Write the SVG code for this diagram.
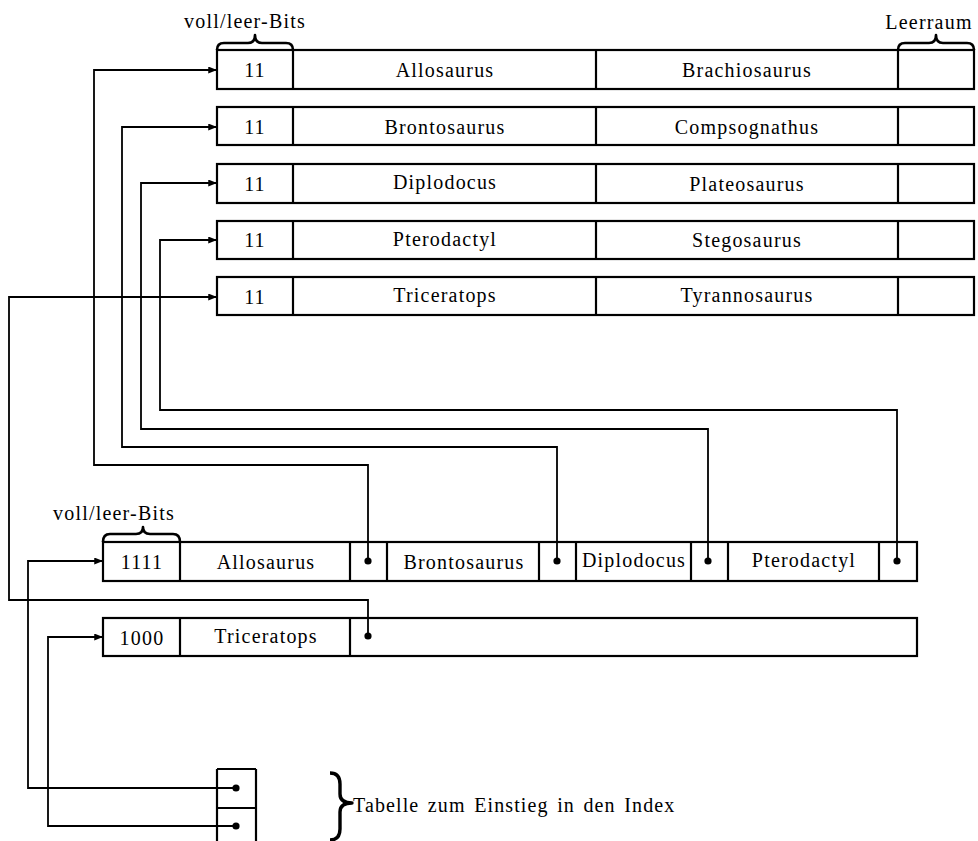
<svg xmlns="http://www.w3.org/2000/svg" width="978" height="841" viewBox="0 0 978 841">
<style>
  .box { fill: none; stroke: #000; stroke-width: 2.2; }
  .div { stroke: #000; stroke-width: 2.2; }
  .t { font-family: "Liberation Serif", "Times New Roman", serif; font-size: 20px; letter-spacing: 1.2px; text-anchor: middle; fill: #000; }
  .ts { font-family: "Liberation Serif", "Times New Roman", serif; font-size: 20px; letter-spacing: 1.1px; word-spacing: 2.5px; fill: #000; }
  .c { fill: none; stroke: #000; stroke-width: 1.8; }
  .brace { fill: none; stroke: #000; stroke-width: 2.6; stroke-linejoin: round; }
  .dot { fill: #000; }
</style>
<defs>
  <marker id="arr" viewBox="0 0 10 8" refX="10" refY="4" markerWidth="10" markerHeight="7" markerUnits="userSpaceOnUse" orient="auto">
    <path d="M0,0 L10,4 L0,8 Z" fill="#000"/>
  </marker>
</defs>

<!-- top labels and braces -->
<g id="label-bits-top">
  <text class="t" x="245" y="28">voll/leer-Bits</text>
  <path class="brace" d="M217,50 Q217,43 224,43 L248,43 Q255,43 255,35 Q255,43 262,43 L286,43 Q293,43 293,50"/>
</g>
<g id="label-leerraum">
  <text class="t" x="929" y="29">Leerraum</text>
  <path class="brace" d="M898,50 Q898,43 905,43 L929,43 Q936,43 936,35 Q936,43 943,43 L967,43 Q974,43 974,50"/>
</g>

<!-- top data blocks -->
<g id="block1">
  <rect class="box" x="217" y="50" width="757" height="39"/>
  <line class="div" x1="293" y1="50" x2="293" y2="89"/>
  <line class="div" x1="596" y1="50" x2="596" y2="89"/>
  <line class="div" x1="898" y1="50" x2="898" y2="89"/>
  <text class="t" x="255" y="77">11</text>
  <text class="t" x="445" y="77">Allosaurus</text>
  <text class="t" x="747" y="77">Brachiosaurus</text>
</g>
<g id="block2">
  <rect class="box" x="217" y="107" width="757" height="38"/>
  <line class="div" x1="293" y1="107" x2="293" y2="145"/>
  <line class="div" x1="596" y1="107" x2="596" y2="145"/>
  <line class="div" x1="898" y1="107" x2="898" y2="145"/>
  <text class="t" x="255" y="134">11</text>
  <text class="t" x="445" y="134">Brontosaurus</text>
  <text class="t" x="747" y="134">Compsognathus</text>
</g>
<g id="block3">
  <rect class="box" x="217" y="164" width="757" height="39"/>
  <line class="div" x1="293" y1="164" x2="293" y2="203"/>
  <line class="div" x1="596" y1="164" x2="596" y2="203"/>
  <line class="div" x1="898" y1="164" x2="898" y2="203"/>
  <text class="t" x="255" y="191">11</text>
  <text class="t" x="445" y="189">Diplodocus</text>
  <text class="t" x="747" y="191">Plateosaurus</text>
</g>
<g id="block4">
  <rect class="box" x="217" y="221" width="757" height="38"/>
  <line class="div" x1="293" y1="221" x2="293" y2="259"/>
  <line class="div" x1="596" y1="221" x2="596" y2="259"/>
  <line class="div" x1="898" y1="221" x2="898" y2="259"/>
  <text class="t" x="255" y="247">11</text>
  <text class="t" x="445" y="246">Pterodactyl</text>
  <text class="t" x="747" y="247">Stegosaurus</text>
</g>
<g id="block5">
  <rect class="box" x="217" y="277" width="757" height="38"/>
  <line class="div" x1="293" y1="277" x2="293" y2="315"/>
  <line class="div" x1="596" y1="277" x2="596" y2="315"/>
  <line class="div" x1="898" y1="277" x2="898" y2="315"/>
  <text class="t" x="255" y="304">11</text>
  <text class="t" x="445" y="302">Triceratops</text>
  <text class="t" x="747" y="302">Tyrannosaurus</text>
</g>

<!-- index blocks -->
<g id="label-bits-index">
  <text class="t" x="114" y="520">voll/leer-Bits</text>
  <path class="brace" d="M103,542 Q103,534 110,534 L136,534 Q143,534 143,527 Q143,534 150,534 L173,534 Q180,534 180,542"/>
</g>
<g id="index1">
  <rect class="box" x="103" y="542" width="814" height="39"/>
  <line class="div" x1="180" y1="542" x2="180" y2="581"/>
  <line class="div" x1="350" y1="542" x2="350" y2="581"/>
  <line class="div" x1="387" y1="542" x2="387" y2="581"/>
  <line class="div" x1="539" y1="542" x2="539" y2="581"/>
  <line class="div" x1="576" y1="542" x2="576" y2="581"/>
  <line class="div" x1="691" y1="542" x2="691" y2="581"/>
  <line class="div" x1="728" y1="542" x2="728" y2="581"/>
  <line class="div" x1="879" y1="542" x2="879" y2="581"/>
  <text class="t" x="142" y="569">1111</text>
  <text class="t" x="266" y="569">Allosaurus</text>
  <text class="t" x="464" y="569">Brontosaurus</text>
  <text class="t" x="634" y="567">Diplodocus</text>
  <text class="t" x="804" y="567">Pterodactyl</text>
  <circle class="dot" cx="368" cy="561" r="3.6"/>
  <circle class="dot" cx="557" cy="561" r="3.6"/>
  <circle class="dot" cx="708" cy="561" r="3.6"/>
  <circle class="dot" cx="897" cy="561" r="3.6"/>
</g>
<g id="index2">
  <rect class="box" x="103" y="618" width="814" height="38"/>
  <line class="div" x1="180" y1="618" x2="180" y2="656"/>
  <line class="div" x1="350" y1="618" x2="350" y2="656"/>
  <text class="t" x="142" y="645">1000</text>
  <text class="t" x="266" y="643">Triceratops</text>
  <circle class="dot" cx="368" cy="636" r="3.6"/>
</g>

<!-- entry table -->
<g id="entry-table">
  <line class="div" x1="217" y1="769" x2="217" y2="841"/>
  <line class="div" x1="256" y1="769" x2="256" y2="841"/>
  <line class="div" x1="217" y1="769" x2="256" y2="769"/>
  <line class="div" x1="217" y1="808" x2="256" y2="808"/>
  <circle class="dot" cx="236" cy="788" r="3.6"/>
  <circle class="dot" cx="236" cy="826" r="3.6"/>
</g>
<g id="label-entry">
  <path class="brace" d="M330,773 Q340,773 340,784 L340,794 Q340,803 352,803 Q340,803 340,812 L340,829 Q340,840 330,840" style="stroke-width:3.4"/>
  <text class="ts" x="353" y="812">Tabelle zum Einstieg in den Index</text>
</g>

<!-- connectors -->
<g id="connectors">
  <path class="c" d="M368,561 L368,465 L94,465 L94,70 L217,70" marker-end="url(#arr)"/>
  <path class="c" d="M557,561 L557,447 L122,447 L122,127 L217,127" marker-end="url(#arr)"/>
  <path class="c" d="M708,561 L708,429 L141,429 L141,183 L217,183" marker-end="url(#arr)"/>
  <path class="c" d="M897,561 L897,410 L160,410 L160,240 L217,240" marker-end="url(#arr)"/>
  <path class="c" d="M368,636 L368,600 L9,600 L9,297 L217,297" marker-end="url(#arr)"/>
  <path class="c" d="M236,788 L28,788 L28,561 L103,561" marker-end="url(#arr)"/>
  <path class="c" d="M236,826 L48,826 L48,637 L103,637" marker-end="url(#arr)"/>
</g>
</svg>
